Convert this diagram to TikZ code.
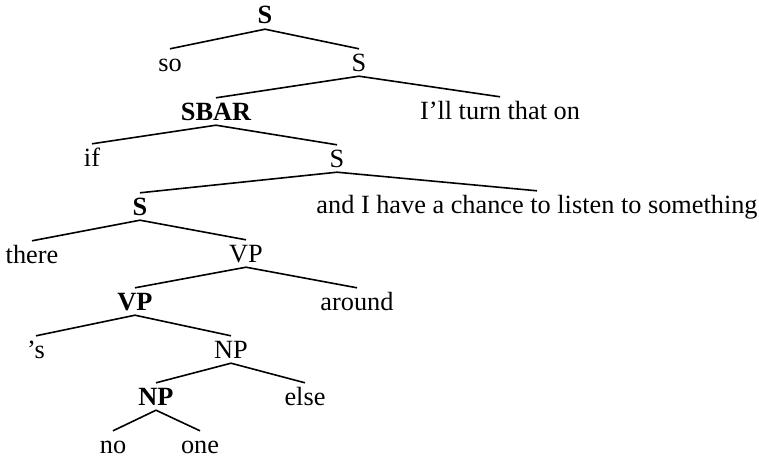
\documentclass[tikz,border=0pt]{standalone}
\usepackage{fontspec}
\setmainfont{Liberation Serif}
\begin{document}
\begin{tikzpicture}[x=1pt,y=-1pt,
  lbl/.style={anchor=base,inner sep=0pt,text height=22pt,text depth=5pt,font=\fontsize{26.3}{30}\selectfont},
  blbl/.style={lbl,font=\fontsize{26.3}{30}\selectfont\bfseries},
  edge/.style={line width=1.6pt}]
\useasboundingbox (0,0) rectangle (759,460);
\node[blbl] (s0) at (265,24) {S};
\node[lbl] (so) at (170,71) {so};
\node[lbl] (s1) at (359,71) {S};
\node[blbl] (sbar) at (216,120) {SBAR};
\node[lbl] (ill) at (500,119) {I’ll turn that on};
\node[lbl] (if) at (92,166) {if};
\node[lbl] (s2) at (337,167) {S};
\node[blbl] (s3) at (140,215) {S};
\node[lbl] (and) at (537,213) {and I have a chance to listen to something};
\node[lbl] (there) at (32,263) {there};
\node[lbl] (vp1) at (246,262) {VP};
\node[blbl] (vp2) at (135,310) {VP};
\node[lbl] (around) at (357,310) {around};
\node[lbl] (s) at (36,358) {’s};
\node[lbl] (np1) at (231,358) {NP};
\node[blbl] (np2) at (156,405) {NP};
\node[lbl] (else) at (305,405) {else};
\node[lbl] (no) at (113,453) {no};
\node[lbl] (one) at (200,453) {one};
\draw[edge] (so.north) -- (s0.south) -- (s1.north);
\draw[edge] (sbar.north) -- (s1.south) -- (ill.north);
\draw[edge] (if.north) -- (sbar.south) -- (s2.north);
\draw[edge] (s3.north) -- (s2.south) -- (and.north);
\draw[edge] (there.north) -- (s3.south) -- (vp1.north);
\draw[edge] (vp2.north) -- (vp1.south) -- (around.north);
\draw[edge] (s.north) -- (vp2.south) -- (np1.north);
\draw[edge] (np2.north) -- (np1.south) -- (else.north);
\draw[edge] (no.north) -- (np2.south) -- (one.north);
\end{tikzpicture}
\end{document}
